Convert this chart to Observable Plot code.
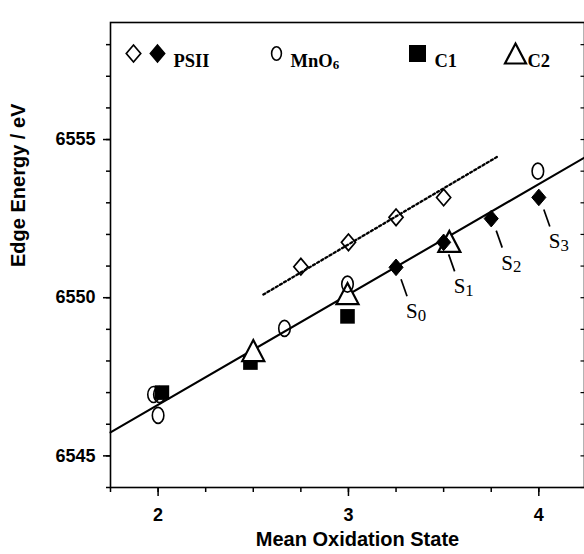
<!DOCTYPE html>
<html>
<head>
<meta charset="utf-8">
<script src="https://cdn.jsdelivr.net/npm/d3@7"></script>
<script src="https://cdn.jsdelivr.net/npm/@observablehq/plot@0.6"></script>
<style>
  html, body { margin: 0; padding: 0; background: white; overflow: hidden; }
</style>
</head>
<body>
<div id="chart"></div>
<script>
// ---- Data ----
const psiiOpenX = [2.75, 3.0, 3.25, 3.5];
const psiiOpenE = [6550.98, 6551.75, 6552.54, 6553.17];
const psiiFilledX = [3.25, 3.5, 3.75, 4.0];
const psiiFilledE = [6550.96, 6551.75, 6552.5, 6553.17];
const sLabels = ["S0", "S1", "S2", "S3"];
const mnO6X = [1.976, 2.007, 2.0, 2.664, 2.995, 3.995];
const mnO6E = [6546.94, 6546.94, 6546.28, 6549.03, 6550.43, 6554.0];
const c1X = [2.02, 2.485, 2.995];
const c1E = [6547.0, 6547.95, 6549.41];
const c2X = [2.5, 2.995, 3.53];
const c2E = [6548.33, 6550.13, 6551.78];
const fitSolidX = [1.75, 4.24];
const fitSolidE = [6545.74, 6554.43];
const fitDottedX = [2.553, 3.783];
const fitDottedE = [6550.10, 6554.46];
const xMajorTicks = [2, 3, 4];
const xMinorTicks = [1.75, 2, 2.25, 2.5, 2.75, 3, 3.25, 3.5, 3.75, 4];
const yMajorTicks = [6545, 6550, 6555];
const yMinorTicks = [6544, 6545, 6546, 6547, 6548, 6549, 6550, 6551, 6552, 6553, 6554, 6555, 6556, 6557, 6558];
const legendLabels = ["PSII", "MnO6", "C1", "C2"];
const xTitle = "Mean Oxidation State";
const yTitle = "Edge Energy / eV";

// ---- tables ----
const pts = (xs, es, labels) => xs.map((x, i) => ({x, e: es[i], label: labels ? labels[i] : null}));
const psiiOpen = pts(psiiOpenX, psiiOpenE);
const psiiFilled = pts(psiiFilledX, psiiFilledE, sLabels);
const mnO6 = pts(mnO6X, mnO6E);
const c1 = pts(c1X, c1E);
const c2 = pts(c2X, c2E);
const fitSolid = pts(fitSolidX, fitSolidE);
const fitDotted = pts(fitDottedX, fitDottedE);

// ---- custom symbols ----
const sym = (fn) => ({draw(ctx, size) { fn(ctx, Math.sqrt(size / Math.PI)); }});
const diamond = sym((c, r) => { c.moveTo(0, -r); c.lineTo(0.85 * r, 0); c.lineTo(0, r); c.lineTo(-0.85 * r, 0); c.closePath(); });
const ellipse = sym((c, r) => {
  const rx = 0.72 * r, ry = r, k = 0.5523, kx = k * rx, ky = k * ry;
  c.moveTo(rx, 0);
  c.bezierCurveTo(rx, ky, kx, ry, 0, ry);
  c.bezierCurveTo(-kx, ry, -rx, ky, -rx, 0);
  c.bezierCurveTo(-rx, -ky, -kx, -ry, 0, -ry);
  c.bezierCurveTo(kx, -ry, rx, -ky, rx, 0);
  c.closePath();
});
const square = sym((c, r) => { c.moveTo(-r, -r); c.lineTo(r, -r); c.lineTo(r, r); c.lineTo(-r, r); c.closePath(); });
const triangle = sym((c, r) => { c.moveTo(0, -r); c.lineTo(1.05 * r, r); c.lineTo(-1.05 * r, r); c.closePath(); });
const leader = sym((c) => { c.moveTo(5, 12); c.lineTo(11, 29); });
const inTick = sym((c) => { c.moveTo(-4, 0); c.lineTo(0, 0); });

const serif = "'Liberation Serif', 'Times New Roman', serif";
const sans = "'Liberation Sans', Arial, sans-serif";
const L = (o) => Object.assign({frameAnchor: "top-left", dy: 31}, o);

const svg = Plot.plot({
  width: 584,
  height: 554,
  marginLeft: 110,
  marginRight: 0,
  marginTop: 22,
  marginBottom: 67,
  style: {fontFamily: sans, background: "white", color: "black", overflow: "visible"},
  x: {domain: [1.75, 4.24]},
  y: {domain: [6544, 6558.7]},
  marks: [
    Plot.frame({stroke: "black", strokeWidth: 1.6}),
    Plot.axisY({ticks: yMajorTicks, tickSize: 7, tickPadding: 8, fontSize: 18, fontWeight: "bold", label: null, strokeWidth: 1.5, tickFormat: d => String(d)}),
    Plot.axisY({ticks: yMinorTicks, tickSize: 4, label: null, strokeWidth: 1.5, tickFormat: () => ""}),
    Plot.dot(yMinorTicks, {y: d => d, frameAnchor: "right", symbol: inTick, stroke: "black", strokeWidth: 1.2, fill: "none"}),
    Plot.axisX({ticks: xMajorTicks, tickSize: 9, tickPadding: 12, fontSize: 18, fontWeight: "bold", label: null, strokeWidth: 1.5, tickFormat: d => String(d)}),
    Plot.axisX({ticks: xMinorTicks, tickSize: 5, label: null, strokeWidth: 1.5, tickFormat: () => ""}),
    Plot.text([xTitle], {text: d => d, frameAnchor: "bottom", dx: 10, dy: 58, fontSize: 20, fontWeight: "bold", fontFamily: sans}),
    Plot.text([yTitle], {text: d => d, frameAnchor: "left", rotate: -90, dx: -92, dy: 12, fontSize: 20, fontWeight: "bold", fontFamily: sans}),

    // fit lines
    Plot.line(fitSolid, {x: "x", y: "e", stroke: "black", strokeWidth: 2.1}),
    Plot.line(fitDotted, {x: "x", y: "e", stroke: "black", strokeWidth: 2.3, strokeDasharray: "2.2,2.6"}),

    // data
    Plot.dot(c1, {x: "x", y: "e", symbol: square, r: 7.3, fill: "black", stroke: "none"}),
    Plot.dot(c2, {x: "x", y: "e", symbol: triangle, r: 10.5, fill: "white", stroke: "black", strokeWidth: 2.2}),
    Plot.dot(mnO6, {x: "x", y: "e", symbol: ellipse, r: 8, fill: "none", stroke: "black", strokeWidth: 1.6}),
    Plot.dot(psiiOpen, {x: "x", y: "e", symbol: diamond, r: 8.3, fill: "none", stroke: "black", strokeWidth: 1.7}),
    Plot.dot(psiiFilled, {x: "x", y: "e", symbol: diamond, r: 8.3, fill: "black", stroke: "black", strokeWidth: 1}),

    // S-state labels and leaders
    Plot.dot(psiiFilled, {x: "x", y: "e", symbol: leader, r: 5, fill: "none", stroke: "black", strokeWidth: 1.7}),
    Plot.text(psiiFilled, {x: "x", y: "e", text: "label", dx: 10, dy: 51, textAnchor: "start", lineAnchor: "bottom", fontFamily: serif, fontSize: 21, fontWeight: "normal", fill: "black"}),

    // legend
    Plot.dot([0], L({dx: 23, symbol: diamond, r: 8.5, fill: "none", stroke: "black", strokeWidth: 1.7})),
    Plot.dot([0], L({dx: 47, symbol: diamond, r: 8.5, fill: "black", stroke: "black"})),
    Plot.text([legendLabels[0]], L({text: d => d, dx: 63, textAnchor: "start", fontFamily: serif, fontWeight: "bold", fontSize: 18.5})),
    Plot.dot([0], L({dx: 166, symbol: ellipse, r: 6.8, fill: "none", stroke: "black", strokeWidth: 1.6})),
    Plot.text([legendLabels[1]], L({text: d => d, dx: 180, textAnchor: "start", fontFamily: serif, fontWeight: "bold", fontSize: 18.5})),
    Plot.dot([0], L({dx: 307, symbol: square, r: 8.5, fill: "black", stroke: "none"})),
    Plot.text([legendLabels[2]], L({text: d => d, dx: 324, textAnchor: "start", fontFamily: serif, fontWeight: "bold", fontSize: 18.5})),
    Plot.dot([0], L({dx: 405, symbol: triangle, r: 10, fill: "white", stroke: "black", strokeWidth: 2.2})),
    Plot.text([legendLabels[3]], L({text: d => d, dx: 417, textAnchor: "start", fontFamily: serif, fontWeight: "bold", fontSize: 18.5}))
  ]
});

// subscripts (S0..S3, MnO6)
d3.select(svg).selectAll("text").each(function() {
  const t = this.textContent;
  const m = t.match(/^(S|MnO)(\d)$/);
  if (!m) return;
  this.textContent = "";
  const sel = d3.select(this);
  sel.append("tspan").text(m[1]);
  sel.append("tspan").attr("dy", m[1] === "S" ? "0.14em" : "0.22em").attr("font-size", m[1] === "S" ? "0.8em" : "0.7em").text(m[2]);
});

document.getElementById("chart").appendChild(svg);
</script>
</body>
</html>
